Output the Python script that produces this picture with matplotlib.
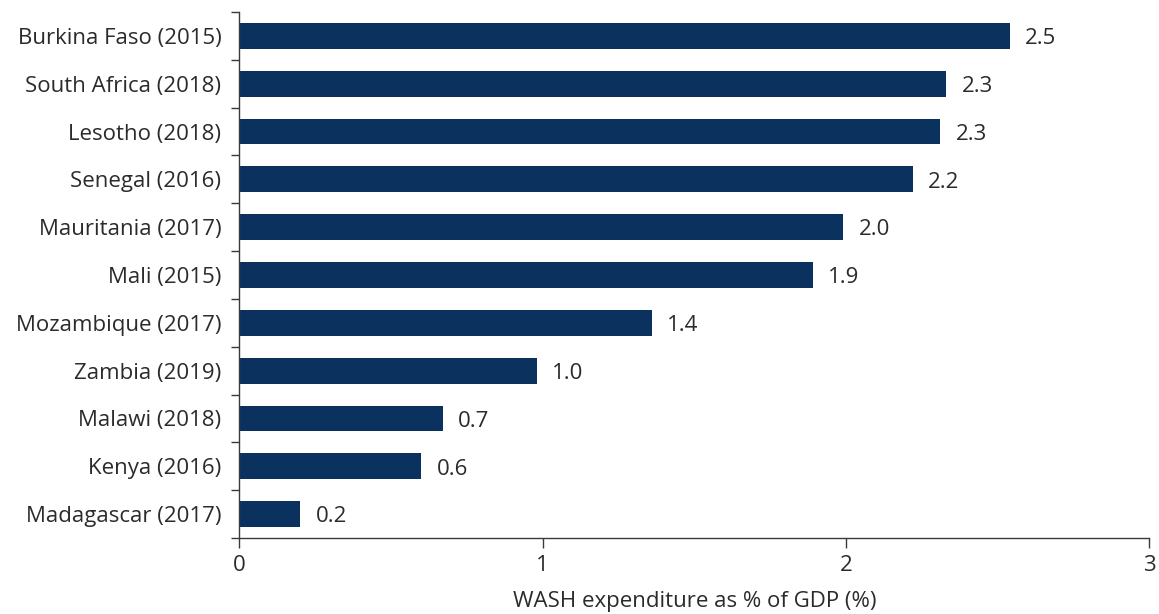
import matplotlib
matplotlib.use("Agg")
import matplotlib.pyplot as plt

countries = [
    "Burkina Faso (2015)", "South Africa (2018)", "Lesotho (2018)",
    "Senegal (2016)", "Mauritania (2017)", "Mali (2015)",
    "Mozambique (2017)", "Zambia (2019)", "Malawi (2018)",
    "Kenya (2016)", "Madagascar (2017)",
]
wash_pct_gdp = [2.54, 2.33, 2.31, 2.22, 1.99, 1.89, 1.36, 0.98, 0.67, 0.60, 0.20]
x_ticks = [0, 1, 2, 3]
x_label = "WASH expenditure as % of GDP (%)"

bar_color = "#0b325e"
text_color = "#2b2b2b"
axis_color = "#3a3a3a"
fs = 16

plt.rcParams["font.family"] = ["Open Sans", "DejaVu Sans"]

fig = plt.figure(figsize=(11.59, 6.14), dpi=100)
ax = fig.add_axes([0.2066, 0.1238, 0.7852, 0.8567])

y = list(range(len(countries)))
ax.barh(y, wash_pct_gdp, height=0.54, color=bar_color, zorder=2)
for yi, v in zip(y, wash_pct_gdp):
    ax.annotate(f"{v:.1f}", (v, yi), xytext=(11, -2), textcoords="offset points",
                va="center", ha="left", fontsize=fs, color=text_color)

ax.set_ylim(len(countries) - 0.5, -0.5)
ax.set_xlim(0, 3)
ax.set_xticks(x_ticks)
ax.set_xticklabels([str(t) for t in x_ticks])
ax.set_yticks(y)
ax.set_yticklabels(countries)
ax.set_yticks([i - 0.5 for i in range(len(countries) + 1)], minor=True)

ax.tick_params(axis="y", which="major", length=0, pad=13, labelsize=fs, labelcolor=text_color)
ax.tick_params(axis="y", which="minor", length=6, width=1, color=axis_color, direction="out")
ax.tick_params(axis="x", which="major", length=7, width=1, color=axis_color, pad=5,
               labelsize=fs, labelcolor=text_color)

for side in ("top", "right"):
    ax.spines[side].set_visible(False)
for side in ("left", "bottom"):
    ax.spines[side].set_color(axis_color)
    ax.spines[side].set_linewidth(1)

ax.set_xlabel(x_label, fontsize=fs, color=text_color, labelpad=11)

fig.savefig("out.png", dpi=100, facecolor="white")
